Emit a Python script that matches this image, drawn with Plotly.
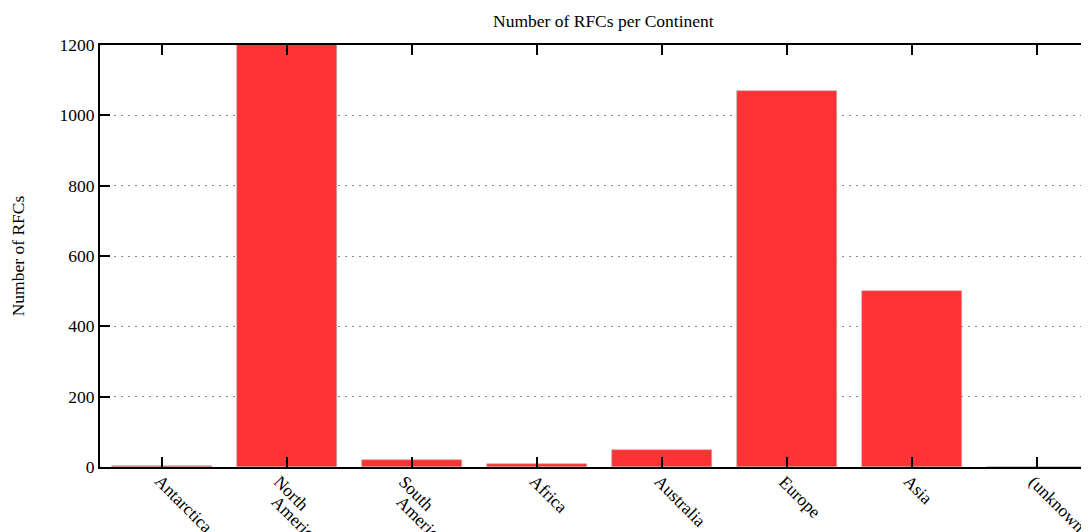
import plotly.graph_objects as go

continents = ["Antarctica", "North\nAmerica", "South\nAmerica", "Africa",
              "Australia", "Europe", "Asia", "(unknown)"]
rfc_counts = [3, 2400, 21, 9, 49, 1069, 501, 0]
y_ticks = [0, 200, 400, 600, 800, 1000, 1200]

positions = list(range(len(continents)))

fig = go.Figure()
fig.add_trace(go.Bar(
    x=positions, y=rfc_counts, width=0.8,
    marker=dict(color="#ff3333", line=dict(color="#b0b0b0", width=0.6)),
))

font = dict(family="Liberation Serif, Times New Roman, serif", size=17.5, color="black")

# rotated category labels, one annotation per text line
for pos, label in zip(positions, continents):
    lines = label.split("\n")
    extra = -6 if len(lines) > 1 else 0
    for i, line in enumerate(lines):
        fig.add_annotation(
            x=pos, y=0, xref="x", yref="y", text=line, showarrow=False,
            textangle=45, xanchor="left", yanchor="top",
            xshift=-13 + extra - 2 * i, yshift=-3 - 20 * i,
            font=font, borderpad=0,
        )

fig.update_layout(
    width=1081, height=524,
    margin=dict(l=92, r=0, t=37, b=65, autoexpand=False),
    plot_bgcolor="white", paper_bgcolor="white",
    font=font,
    showlegend=False,
    title=dict(text="Number of RFCs per Continent", x=0.509, xref="paper",
               xanchor="center", y=0.975, yanchor="middle", font=dict(size=17.5)),
    bargap=0,
)
fig.update_xaxes(
    range=[-0.5, 7.42], tickmode="array", tickvals=positions, showticklabels=False,
    showline=True, linecolor="black", linewidth=2, mirror="ticks",
    ticks="inside", ticklen=10, tickwidth=2, tickcolor="black", showgrid=False,
    zeroline=False, automargin=False,
)
fig.update_yaxes(
    range=[0, 1200], tickmode="array", tickvals=y_ticks,
    showline=True, linecolor="black", linewidth=2,
    ticks="inside", ticklen=10, tickwidth=2, tickcolor="black",
    showgrid=True, gridcolor="#888888", gridwidth=1.2, griddash="1.5px,5.5px",
    zeroline=False, automargin=False,
    title=dict(text="Number of RFCs", standoff=30, font=dict(size=17.5)),
)

fig.write_html("out.html")
